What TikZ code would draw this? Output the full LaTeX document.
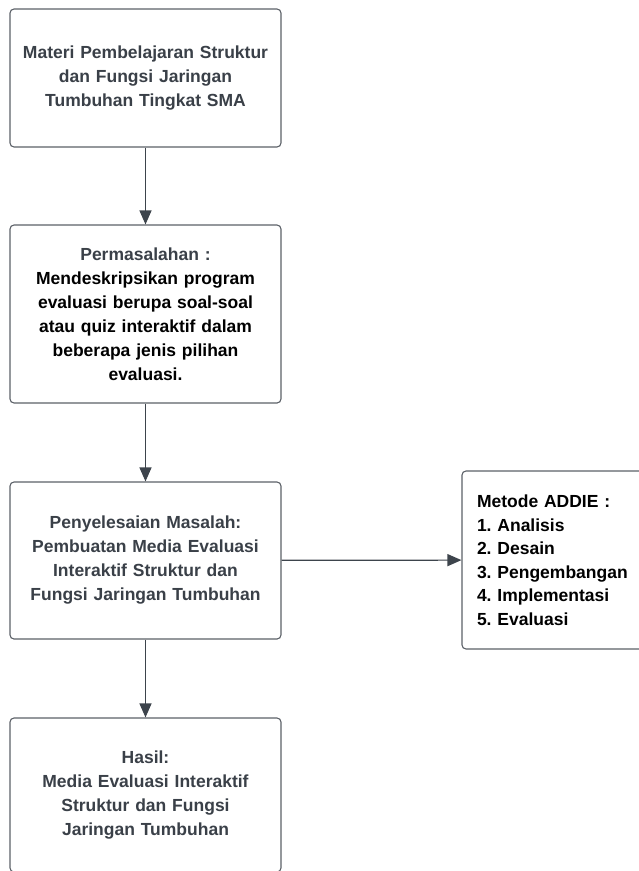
\documentclass[tikz,border=0pt]{standalone}
\usepackage{fontspec}
\setmainfont{Liberation Sans}
\usetikzlibrary{arrows.meta}
\definecolor{txtgray}{HTML}{3A4048}
\definecolor{linegray}{HTML}{5C6168}
\definecolor{arrgray}{HTML}{3D444C}
\tikzset{
  box/.style={draw=linegray, line width=1.1pt, rounded corners=4pt, fill=white,
    align=center, text width=262pt, inner sep=0pt,
    font=\bfseries\fontsize{17.5}{24}\selectfont, text=txtgray},
  conn/.style={draw=arrgray, line width=1.2pt, -{Triangle[length=14pt,width=12pt]}}
}
\begin{document}
\frenchspacing
\begin{tikzpicture}[x=1pt,y=-1pt]
\useasboundingbox (0,0) rectangle (638,871);
\node[box, minimum width=271pt, minimum height=138pt] (materi) at (145.5,78)
  {Materi Pembelajaran Struktur\\dan Fungsi Jaringan\\Tumbuhan Tingkat SMA};
\node[box, minimum width=271pt, minimum height=178pt] (masalah) at (145.5,314)
  {Permasalahan :\\\textcolor{black}{Mendeskripsikan program}\\\textcolor{black}{evaluasi berupa soal-soal}\\\textcolor{black}{atau quiz interaktif dalam}\\\textcolor{black}{beberapa jenis pilihan}\\\textcolor{black}{evaluasi.}};
\node[box, minimum width=271pt, minimum height=157pt] (solusi) at (145.5,560.5)
  {Penyelesaian Masalah:\\Pembuatan Media Evaluasi\\Interaktif Struktur dan\\Fungsi Jaringan Tumbuhan};
\node[box, minimum width=271pt, minimum height=154pt] (hasil) at (145.5,795)
  {Hasil:\\Media Evaluasi Interaktif\\Struktur dan Fungsi\\Jaringan Tumbuhan};
\node[box, align=left, text=black, text width=153pt, inner xsep=15pt,
  minimum width=183pt, minimum height=178pt,
  font=\bfseries\fontsize{17.5}{23.5}\selectfont] (addie) at (553.5,560)
  {Metode ADDIE :\\1. Analisis\\2. Desain\\3. Pengembangan\\4. Implementasi\\5. Evaluasi};
\draw[conn] (materi) -- (masalah);
\draw[conn] (masalah) -- (solusi);
\draw[conn] (solusi) -- (hasil);
\draw[conn] (solusi) -- (addie);
\end{tikzpicture}
\end{document}
